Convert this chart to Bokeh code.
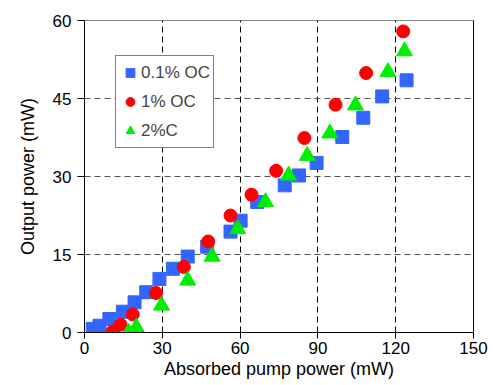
from bokeh.plotting import figure
from bokeh.models import Range1d, FixedTicker, LinearAxis, Legend, LegendItem
from bokeh.embed import file_html
from bokeh.resources import INLINE

# Data
oc01_x = [3.2, 5.8, 9.6, 14.8, 19.3, 23.8, 28.9, 34.1, 39.8, 47.3, 56.3, 60.2, 66.6, 77.2, 82.7, 89.5, 99.4, 107.5, 114.8, 124.2]
oc01_y = [0.7, 1.3, 2.6, 4.0, 5.8, 7.75, 10.3, 12.25, 14.6, 16.5, 19.4, 21.5, 25.1, 28.3, 30.2, 32.6, 37.6, 41.3, 45.4, 48.5]

oc1_x = [10.9, 13.9, 18.6, 27.6, 38.3, 47.7, 56.3, 64.4, 73.9, 84.8, 96.8, 108.6, 122.9]
oc1_y = [0.2, 1.5, 3.5, 7.6, 12.6, 17.5, 22.5, 26.5, 31.1, 37.4, 43.8, 49.9, 57.9]

oc2_x = [17.0, 20.0, 29.7, 39.8, 49.2, 59.1, 69.8, 78.7, 85.9, 94.6, 104.5, 117.0, 123.4]
oc2_y = [0.0, 1.0, 5.2, 10.0, 14.6, 19.9, 25.1, 30.2, 34.0, 38.3, 43.7, 50.1, 54.1]

x_ticks = [0, 30, 60, 90, 120, 150]
y_ticks = [0, 15, 30, 45, 60]

labels = ["0.1% OC", "1% OC", "2%C"]

FONT = "Liberation Sans"

p = figure(width=493, height=385, output_backend="svg", toolbar_location=None,
           x_range=Range1d(0, 150), y_range=Range1d(0, 60),
           min_border_left=84, min_border_right=20, min_border_top=20, min_border_bottom=53)

p.outline_line_color = "#888888"
p.background_fill_color = "white"
p.border_fill_color = "white"

for ax in (p.xaxis[0], p.yaxis[0]):
    ax.axis_line_color = "black"
    ax.major_tick_line_color = "black"
    ax.minor_tick_line_color = None
    ax.major_tick_in = 0
    ax.major_label_text_font = FONT
    ax.major_label_text_font_size = "17px"
    ax.major_label_text_color = "black"
    ax.axis_label_text_font = FONT
    ax.axis_label_text_font_size = "18px"
    ax.axis_label_text_font_style = "normal"
    ax.axis_label_text_color = "black"

p.xaxis[0].ticker = FixedTicker(ticks=x_ticks)
p.yaxis[0].ticker = FixedTicker(ticks=y_ticks)
p.xaxis[0].major_tick_out = 6
p.yaxis[0].major_tick_out = 7
p.xaxis[0].major_label_standoff = 3
p.yaxis[0].major_label_standoff = 6
p.xaxis[0].axis_label = "Absorbed pump power (mW)"
p.yaxis[0].axis_label = "Output power (mW)"
p.xaxis[0].axis_label_standoff = 2
p.yaxis[0].axis_label_standoff = 12

right_ax = LinearAxis(axis_line_color="black", major_tick_line_color=None, minor_tick_line_color=None,
                      major_label_text_font_size="0px", major_label_text_color=None,
                      ticker=FixedTicker(ticks=[]))
p.add_layout(right_ax, "right")

p.xgrid.ticker = FixedTicker(ticks=x_ticks)
p.ygrid.ticker = FixedTicker(ticks=y_ticks)
p.xgrid.grid_line_color = "black"
p.xgrid.grid_line_dash = "6 4"
p.ygrid.grid_line_color = "#555555"
p.ygrid.grid_line_dash = "6 4"

r1 = p.scatter(oc01_x, oc01_y, marker="square", size=13, fill_color="#3366FF", line_color="#3366FF")
r2 = p.scatter(oc1_x, oc1_y, marker="circle", size=13, fill_color="#FF0000", line_color="#FF0000")
r3 = p.scatter(oc2_x, oc2_y, marker="triangle", size=16, fill_color="#00EE00", line_color="#00EE00")

legend = Legend(items=[LegendItem(label=labels[0], renderers=[r1]),
                       LegendItem(label=labels[1], renderers=[r2]),
                       LegendItem(label=labels[2], renderers=[r3])],
                location=(31, 184), orientation="vertical",
                border_line_color="black", border_line_width=1,
                background_fill_color="white", background_fill_alpha=1.0,
                label_text_font=FONT, label_text_font_size="17px",
                glyph_width=22, glyph_height=27, label_height=27,
                spacing=2, padding=3, margin=0, label_standoff=0)
p.add_layout(legend, "center")

open("out.html", "w").write(file_html(p, INLINE))
